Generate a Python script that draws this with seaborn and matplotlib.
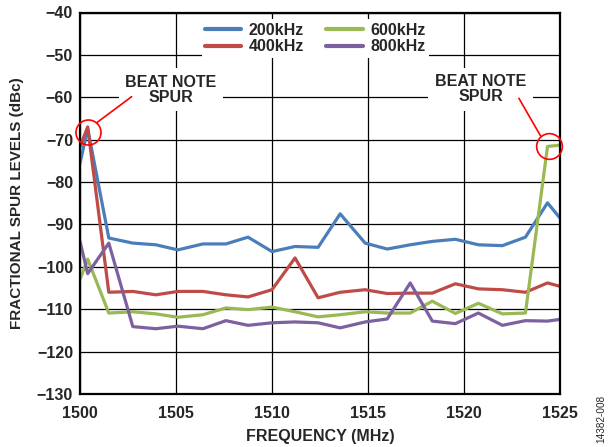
import numpy as np
import pandas as pd
import seaborn as sns
import matplotlib
matplotlib.use('Agg')
import matplotlib.pyplot as plt

# values
freq = [1500.0, 1500.4, 1501.5, 1502.75, 1503.95, 1505.1, 1506.4, 1507.6, 1508.75,
        1510.0, 1511.2, 1512.4, 1513.55, 1514.85, 1516.0, 1517.2, 1518.35, 1519.55,
        1520.75, 1522.0, 1523.2, 1524.35, 1525.0]
spur_200k = [-75.6, -67.4, -93.2, -94.4, -94.8, -96.0, -94.6, -94.6, -93.0, -96.4, -95.2,
             -95.4, -87.5, -94.4, -95.8, -94.8, -94.0, -93.5, -94.8, -95.0, -93.0, -84.9, -88.5]
spur_400k = [-71.7, -67.0, -106.0, -105.8, -106.6, -105.8, -105.8, -106.6, -107.1, -105.4, -97.9,
             -107.3, -106.0, -105.4, -106.3, -106.2, -106.2, -104.0, -105.2, -105.4, -106.0, -103.8, -104.6]
spur_600k = [-103.0, -98.2, -110.9, -110.6, -111.1, -111.9, -111.3, -109.7, -110.1, -109.5, -110.6,
             -111.8, -111.3, -110.6, -110.9, -110.9, -108.1, -111.0, -108.6, -111.1, -110.9, -71.6, -71.3]
spur_800k = [-94.0, -101.6, -94.4, -114.1, -114.6, -114.0, -114.6, -112.7, -113.8, -113.2, -113.0,
             -113.2, -114.4, -113.0, -112.3, -103.8, -112.8, -113.4, -110.9, -113.8, -112.7, -112.8, -112.4]
series_names = ['200kHz', '400kHz', '600kHz', '800kHz']
colors = ['#4A7EBB', '#BE4B48', '#98B954', '#7D60A0']

rows = []
for name, vals in zip(series_names, [spur_200k, spur_400k, spur_600k, spur_800k]):
  for f, v in zip(freq, vals):
    rows.append({'freq': f, 'level': v, 'spacing': name})
df = pd.DataFrame(rows)

sns.set_style('white')
plt.rcParams['font.family'] = ['Liberation Sans', 'DejaVu Sans']
plt.rcParams['font.weight'] = 'bold'
plt.rcParams['font.size'] = 11

fig = plt.figure(figsize=(6.14, 4.47), dpi=100)
ax = fig.add_axes([80 / 614, 1 - 394 / 447, 480 / 614, 381.5 / 447])

sns.lineplot(data=df, x='freq', y='level', hue='spacing', hue_order=series_names,
             palette=dict(zip(series_names, colors)), linewidth=2.3, ax=ax, zorder=3)

ax.set_xlim(1500, 1525)
ax.set_ylim(-130, -40)
ax.set_xticks(np.arange(1500, 1526, 5))
ax.set_yticks(np.arange(-130, -39, 10))
ax.grid(True, color='black', linewidth=0.9)
ax.set_axisbelow(True)
for s in ax.spines.values():
  s.set_color('black')
  s.set_linewidth(1.6)
  s.set_zorder(5)
ax.tick_params(axis='both', length=0, labelsize=11.5)
ax.tick_params(axis='x', pad=9)
ax.tick_params(axis='y', pad=5)
for lab in ax.get_xticklabels() + ax.get_yticklabels():
  lab.set_fontweight('bold')

ax.set_xlabel('FREQUENCY (MHz)', fontsize=11.5, fontweight='bold')
ax.set_ylabel('FRACTIONAL SPUR LEVELS (dBc)', fontsize=11, fontweight='bold')
ax.xaxis.set_label_coords(0.5, -0.092)
ax.yaxis.set_label_coords(-0.117, 0.5)

handles, labels = ax.get_legend_handles_labels()
leg = ax.legend(handles, labels, loc='upper center', bbox_to_anchor=(0.49, 1.003), ncol=2,
                frameon=True, fancybox=False, framealpha=1, edgecolor='none',
                handlelength=2.3, handletextpad=0.45, columnspacing=1.4,
                labelspacing=0.12, borderpad=0.2, prop={'weight': 'bold', 'size': 11.5})
leg.set_zorder(6)
for h in leg.get_lines():
  h.set_linewidth(3)

# beat note callouts
box = dict(boxstyle='square,pad=0.4', fc='white', ec='none')
ax.text(1504.74, -58.2, 'BEAT NOTE\nSPUR', ha='center', va='center', fontsize=11.5,
        fontweight='bold', linespacing=1.0, bbox=box, zorder=6)
ax.text(1520.86, -58.1, 'BEAT NOTE\nSPUR', ha='center', va='center', fontsize=11.5,
        fontweight='bold', linespacing=1.0, bbox=box, zorder=6)
ax.plot([1502.69, 1500.87], [-59.86, -66.0], color='red', linewidth=1.2, zorder=7)
ax.plot([1522.86, 1523.99], [-60.24, -69.13], color='red', linewidth=1.2, zorder=7)
ax.plot([1500.43], [-68.12], marker='o', markersize=18, mfc='none', mec='red', mew=1.2,
        zorder=7, clip_on=False)
ax.plot([1524.43], [-71.49], marker='o', markersize=18.5, mfc='none', mec='red', mew=1.2,
        zorder=7, clip_on=False)

fig.text(601.7 / 614, 1 - 419 / 447, '14382-008', rotation=90, ha='center', va='center',
         fontsize=7.2, fontweight='normal')

plt.savefig('out.png', dpi=100)
